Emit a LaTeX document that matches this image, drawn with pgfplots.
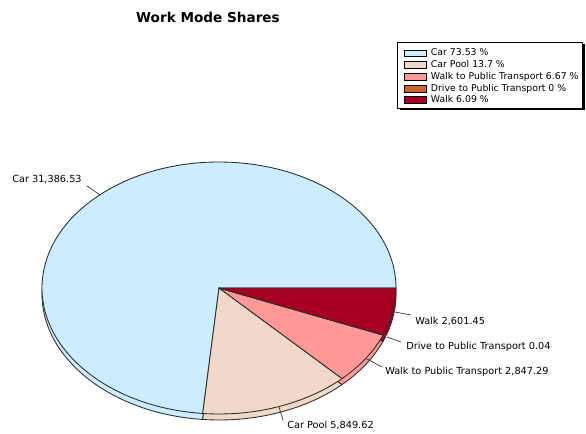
\documentclass[border=0pt]{standalone}
\usepackage{pgfplots}
\pgfplotsset{compat=1.18}
\usepackage{pgfplotstable}
\usepackage{fontspec}
\setmainfont{DejaVu Sans}

\definecolor{cCar}{RGB}{204,236,255}
\definecolor{cPool}{RGB}{240,217,200}
\definecolor{cWPT}{RGB}{255,153,153}
\definecolor{cDPT}{RGB}{205,102,40}
\definecolor{cWalk}{RGB}{165,0,33}
\definecolor{edge}{RGB}{45,45,45}

\pgfplotstableread{
label value
Car 31386.53
CarPool 5849.62
WalkPT 2847.29
DrivePT 0.04
Walk 2601.45
}\piedata

\pgfplotstablegetelem{0}{value}\of\piedata\let\vCar\pgfplotsretval
\pgfplotstablegetelem{1}{value}\of\piedata\let\vPool\pgfplotsretval
\pgfplotstablegetelem{2}{value}\of\piedata\let\vWPT\pgfplotsretval
\pgfplotstablegetelem{3}{value}\of\piedata\let\vDPT\pgfplotsretval
\pgfplotstablegetelem{4}{value}\of\piedata\let\vWalk\pgfplotsretval

\pgfkeys{/pgf/fpu=true,/pgf/fpu/output format=fixed}
\pgfmathsetmacro\total{\vCar+\vPool+\vWPT+\vDPT+\vWalk}
\pgfmathsetmacro\aA{360*\vWalk/\total}
\pgfmathsetmacro\aB{\aA+360*\vDPT/\total}
\pgfmathsetmacro\aC{\aB+360*\vWPT/\total}
\pgfmathsetmacro\aD{\aC+360*\vPool/\total}
\pgfkeys{/pgf/fpu=false}

% slice: colour, start angle (clockwise on screen), end angle, centre y (axis units)
\newcommand\slice[4]{%
  \filldraw[fill=#1,draw=edge,line width=0.65pt,line join=round]
    (axis cs:219,#4) -- (axis cs:{219+177*cos(#2)},{#4-126*sin(#2)})
    arc[start angle=-#2,end angle=-#3,x radius=132.75pt,y radius=94.5pt] -- cycle;}

\begin{document}
\begin{tikzpicture}
\begin{axis}[
  scale only axis, width=439.5pt, height=324.75pt,
  xmin=0, xmax=586, ymin=0, ymax=433,
  hide axis, clip=false,
  legend cell align=left,
  legend style={at={(axis cs:404,387)}, anchor=north west,
    draw=none, fill=none,
    font=\fontsize{7.0}{8}\selectfont,
    row sep=-2pt, inner xsep=0pt, inner ysep=0pt},
  legend image code/.code={\draw[#1,line width=0.6pt] (1.5pt,-2.6pt) rectangle (17.5pt,2.6pt); \path (19pt,0pt);},
]
\path (axis cs:0,0) rectangle (axis cs:586,433);
% legend frame with shadow
\fill[black] (axis cs:399.5,323) rectangle (axis cs:584.5,388.5);
\filldraw[fill=white,draw=black,line width=0.6pt] (axis cs:397,325) rectangle (axis cs:582,391);
\addlegendimage{fill=cCar,draw=black}
\addlegendentry{Car 73.53 \%}
\addlegendimage{fill=cPool,draw=black}
\addlegendentry{Car Pool 13.7 \%}
\addlegendimage{fill=cWPT,draw=black}
\addlegendentry{Walk to Public Transport 6.67 \%}
\addlegendimage{fill=cDPT,draw=black}
\addlegendentry{Drive to Public Transport 0 \%}
\addlegendimage{fill=cWalk,draw=black}
\addlegendentry{Walk 6.09 \%}

% side (depth)
\slice{cCar}{\aD}{360}{139}
\slice{cPool}{\aC}{\aD}{139}
\slice{cWPT}{\aB}{\aC}{139}
\slice{cDPT}{\aA}{\aB}{139}
\slice{cWalk}{0}{\aA}{139}
% top face
\slice{cCar}{\aD}{360}{145}
\slice{cPool}{\aC}{\aD}{145}
\slice{cWPT}{\aB}{\aC}{145}
\slice{cDPT}{\aA}{\aB}{145}
\slice{cWalk}{0}{\aA}{145}

% title
\node[font=\fontsize{10.2}{12}\selectfont\bfseries] at (axis cs:208,416) {Work Mode Shares};

% labels and leader lines
\begin{scope}[every node/.style={font=\fontsize{7.3}{8}\selectfont, anchor=west, inner sep=0pt}]
\draw[edge,line width=0.5pt] (axis cs:87,247) -- (axis cs:100,238);
\node at (axis cs:12,254) {Car 31,386.53};
\draw[edge,line width=0.5pt] (axis cs:279,26) -- (axis cs:283,13);
\node at (axis cs:287,8) {Car Pool 5,849.62};
\draw[edge,line width=0.5pt] (axis cs:395,121) -- (axis cs:411,118);
\node at (axis cs:415,112) {Walk 2,601.45};
\draw[edge,line width=0.5pt] (axis cs:387,96) -- (axis cs:401,91);
\node at (axis cs:406,86) {Drive to Public Transport 0.04};
\draw[edge,line width=0.5pt] (axis cs:367,74) -- (axis cs:382,66);
\node at (axis cs:385,61) {Walk to Public Transport 2,847.29};
\end{scope}
\end{axis}
\end{tikzpicture}
\end{document}
